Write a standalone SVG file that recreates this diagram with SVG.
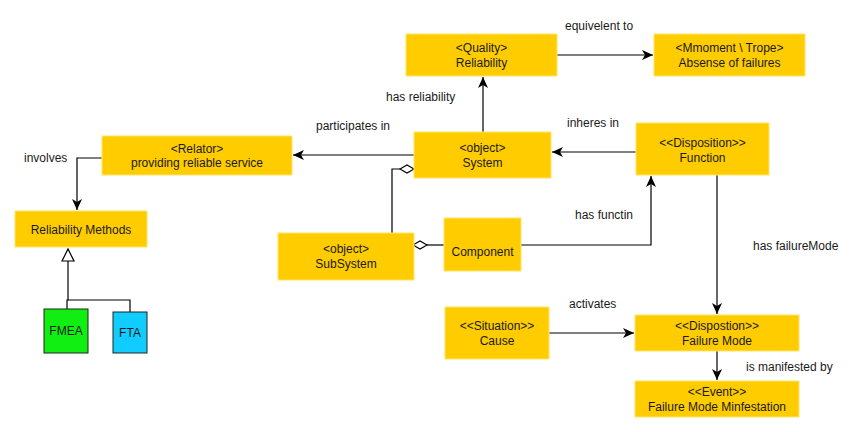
<svg xmlns="http://www.w3.org/2000/svg" width="857" height="432" viewBox="0 0 857 432">
<defs>
<style>
.n{fill:#FFCC00;stroke:#FFE566;stroke-width:1}
.t{font-family:"Liberation Sans",Arial,sans-serif;font-size:12px;fill:#1a1a1a;text-anchor:middle}
.l{font-family:"Liberation Sans",Arial,sans-serif;font-size:12px;fill:#1a1a1a}
.c{fill:none;stroke:#000;stroke-width:1.2}
</style>
<marker id="a" markerWidth="12" markerHeight="10" refX="11" refY="5" orient="auto" markerUnits="userSpaceOnUse">
<path d="M0,0 L11,5 L0,10 L3,5 Z" fill="#000"/>
</marker>
<marker id="g" markerWidth="14" markerHeight="16" refX="13" refY="7" orient="auto" markerUnits="userSpaceOnUse">
<path d="M1,1 L13,7 L1,13 Z" fill="#fff" stroke="#000" stroke-width="1.2"/>
</marker>
</defs>
<rect width="857" height="432" fill="#fff"/>
<g id="connectors">
<path class="c" d="M557,55 L653,55" marker-end="url(#a)"/>
<path class="c" d="M483,132 L483,77" marker-end="url(#a)"/>
<path class="c" d="M414,155 L293,155" marker-end="url(#a)"/>
<path class="c" d="M102,158 L77,158 L77,210" marker-end="url(#a)"/>
<path class="c" d="M67,309 L67,300 L68,300 L68,249" marker-end="url(#g)"/>
<path class="c" d="M68,300 L130,300 L130,312"/>
<path class="c" d="M636,152 L552,152" marker-end="url(#a)"/>
<path class="c" d="M392,233 L392,169 L400,169"/>
<path d="M400,169 L407,165 L414,169 L407,173 Z" fill="#fff" stroke="#000" stroke-width="1.1"/>
<path class="c" d="M427,245 L444,245"/>
<path d="M413,245 L420,241 L427,245 L420,249 Z" fill="#fff" stroke="#000" stroke-width="1.1"/>
<path class="c" d="M521,245 L651,245 L651,176" marker-end="url(#a)"/>
<path class="c" d="M717,175 L717,314" marker-end="url(#a)"/>
<path class="c" d="M549,333 L634,333" marker-end="url(#a)"/>
<path class="c" d="M717,351 L717,380" marker-end="url(#a)"/>
</g>
<g id="labels">
<text class="l" x="565" y="30">equivelent to</text>
<text class="l" x="386" y="101">has reliability</text>
<text class="l" x="316" y="130">participates in</text>
<text class="l" x="24" y="162">involves</text>
<text class="l" x="567" y="127">inheres in</text>
<text class="l" x="575" y="219">has functin</text>
<text class="l" x="753" y="250">has failureMode</text>
<text class="l" x="569" y="308">activates</text>
<text class="l" x="746" y="371">is manifested by</text>
</g>
<g id="quality">
<rect class="n" x="406" y="34" width="151" height="42"/>
<text class="t" x="481.5" y="52">&lt;Quality&gt;</text>
<text class="t" x="481.5" y="67">Reliability</text>
</g>
<g id="absense">
<rect class="n" x="654" y="34" width="151" height="42"/>
<text class="t" x="729.5" y="52">&lt;Mmoment \ Trope&gt;</text>
<text class="t" x="729.5" y="67">Absense of failures</text>
</g>
<g id="relator">
<rect class="n" x="102" y="136" width="190" height="39"/>
<text class="t" x="197" y="153">&lt;Relator&gt;</text>
<text class="t" x="197" y="167">providing reliable service</text>
</g>
<g id="methods">
<rect class="n" x="15" y="211" width="132" height="36"/>
<text class="t" x="81" y="234">Reliability Methods</text>
</g>
<g id="fmea">
<rect x="44" y="309" width="44" height="44" fill="#11EE11" stroke="#222" stroke-width="1"/>
<text class="t" x="66" y="335">FMEA</text>
</g>
<g id="fta">
<rect x="113" y="312" width="34" height="41" fill="#11CCFF" stroke="#222" stroke-width="1"/>
<text class="t" x="130" y="337">FTA</text>
</g>
<g id="system">
<rect class="n" x="414" y="132" width="137" height="46"/>
<text class="t" x="482.5" y="152">&lt;object&gt;</text>
<text class="t" x="482.5" y="167">System</text>
</g>
<g id="subsystem">
<rect class="n" x="278" y="233" width="136" height="47"/>
<text class="t" x="346" y="253">&lt;object&gt;</text>
<text class="t" x="346" y="268">SubSystem</text>
</g>
<g id="component">
<rect class="n" x="444" y="218" width="77" height="53"/>
<text class="t" x="482.5" y="256">Component</text>
</g>
<g id="function">
<rect class="n" x="636" y="123" width="133" height="52"/>
<text class="t" x="702.5" y="147">&lt;&lt;Disposition&gt;&gt;</text>
<text class="t" x="702.5" y="162">Function</text>
</g>
<g id="cause">
<rect class="n" x="445" y="307" width="104" height="52"/>
<text class="t" x="497" y="330">&lt;&lt;Situation&gt;&gt;</text>
<text class="t" x="497" y="345">Cause</text>
</g>
<g id="failuremode">
<rect class="n" x="635" y="315" width="164" height="36"/>
<text class="t" x="717" y="330">&lt;&lt;Dispostion&gt;&gt;</text>
<text class="t" x="717" y="345">Failure Mode</text>
</g>
<g id="event">
<rect class="n" x="635" y="381" width="164" height="36"/>
<text class="t" x="717" y="396">&lt;&lt;Event&gt;&gt;</text>
<text class="t" x="717" y="411">Failure Mode Minfestation</text>
</g>
</svg>
